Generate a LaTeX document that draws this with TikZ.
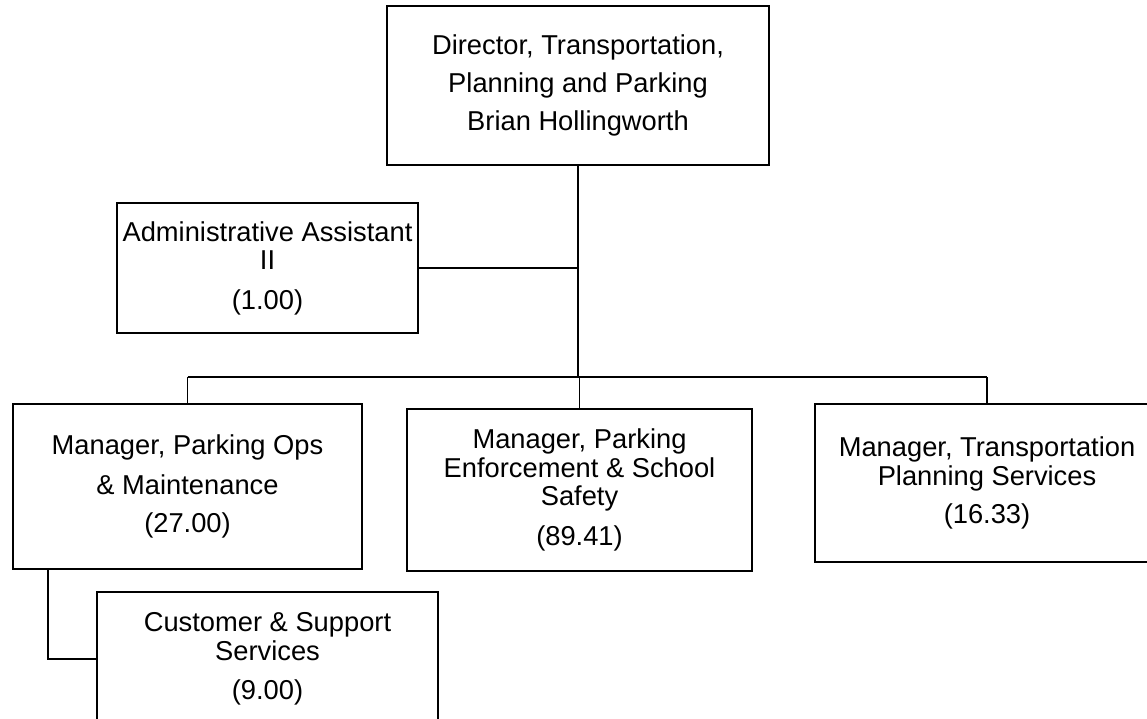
\documentclass[tikz,border=0pt]{standalone}
\usepackage{fontspec}
\setmainfont{Liberation Sans}
\begin{document}
\begin{tikzpicture}[x=1pt,y=-1pt,
  box/.style={draw,line width=2pt,inner sep=0pt,align=center,
    font=\fontsize{27.3}{28.5}\selectfont},
  conn/.style={line width=1.6pt}]
\useasboundingbox (0,0) rectangle (1147,719);
\clip (0,0) rectangle (1147,719);
\node[box,minimum width=382pt,minimum height=159pt] (dir) at (578,85.5)
  {Director, Transportation,\\[9.5pt]Planning and Parking\\[9.5pt]Brian Hollingworth};
\node[box,minimum width=301pt,minimum height=130pt] (adm) at (267.5,268)
  {Administrative Assistant\\II\\[11pt](1.00)};
\node[box,minimum width=349pt,minimum height=165pt] (ops) at (187.5,486.5)
  {Manager, Parking Ops\\[11pt]\&~Maintenance\\[10pt](27.00)};
\node[box,minimum width=345pt,minimum height=162pt] (enf) at (579.5,490)
  {Manager, Parking\\Enforcement \& School\\Safety\\[11pt](89.41)};
\node[box,minimum width=344pt,minimum height=158pt] (trn) at (987,483)
  {Manager, Transportation\\Planning Services\\[10pt](16.33)};
\node[box,minimum width=341pt,minimum height=134pt] (cus) at (267.5,659)
  {Customer \& Support\\Services\\[11pt](9.00)};
\coordinate (j) at (578,377);
\coordinate (k) at (48,0);
\draw[conn] (dir.south) -- (j);
\draw[conn] (adm.east) -- (adm.east -| j);
\draw[conn] (ops.north |- j) -- (trn.north |- j);
\draw[conn] (ops.north |- j) -- (ops.north);
\draw[conn] (enf.north |- j) -- (enf.north);
\draw[conn] (trn.north |- j) -- (trn.north);
\draw[conn] (ops.south -| k) |- (cus.west);
\end{tikzpicture}
\end{document}
